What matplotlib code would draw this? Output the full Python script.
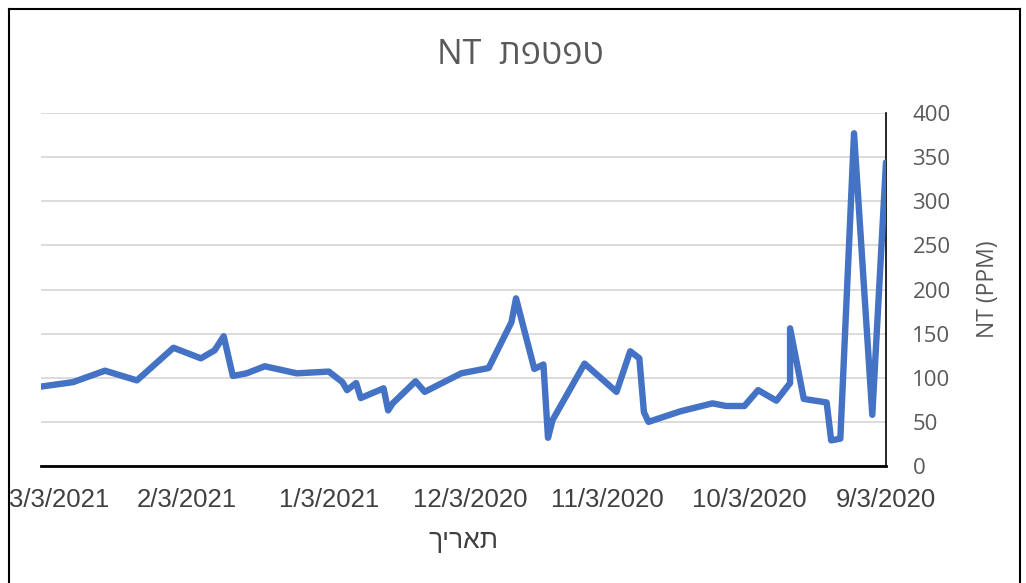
import matplotlib
matplotlib.use("Agg")
import matplotlib.pyplot as plt
from matplotlib.lines import Line2D
import pandas as pd

dates = [
    "2021-03-07", "2021-02-28", "2021-02-21", "2021-02-14", "2021-02-06",
    "2021-01-31", "2021-01-28", "2021-01-26", "2021-01-24", "2021-01-21",
    "2021-01-17", "2021-01-10", "2021-01-03", "2020-12-31", "2020-12-30",
    "2020-12-28", "2020-12-27", "2020-12-22", "2020-12-21", "2020-12-20",
    "2020-12-15", "2020-12-13", "2020-12-05", "2020-11-29", "2020-11-24",
    "2020-11-23", "2020-11-19", "2020-11-17", "2020-11-16", "2020-11-15",
    "2020-11-08", "2020-11-01", "2020-10-29", "2020-10-27", "2020-10-26",
    "2020-10-25", "2020-10-18", "2020-10-11", "2020-10-08", "2020-10-04",
    "2020-10-01", "2020-09-27", "2020-09-24", "2020-09-24", "2020-09-21",
    "2020-09-16", "2020-09-15", "2020-09-13", "2020-09-10", "2020-09-06",
    "2020-09-03",
]
nt_ppm = [
    90, 95, 108, 97, 134,
    122, 131, 147, 102, 105,
    113, 105, 107, 95, 86,
    94, 77, 88, 63, 71,
    96, 84, 105, 111, 163,
    190, 110, 115, 32, 52,
    116, 84, 130, 122, 61,
    50, 62, 71, 68, 68,
    86, 74, 94, 156, 76,
    72, 29, 31, 377, 58,
    344,
]
tick_dates = ["2021-03-03", "2021-02-03", "2021-01-03", "2020-12-03",
              "2020-11-03", "2020-10-03", "2020-09-03"]
y_ticks = [0, 50, 100, 150, 200, 250, 300, 350, 400]

title_he = "טפטפת"
xlabel_he = "תאריך"
ylabel = "NT (PPM)"

x = pd.to_datetime(dates)
fig = plt.figure(figsize=(10.26, 5.83), dpi=100)
ax = fig.add_axes([41/1026, 1-466/583, (886-41)/1026, (466-113)/583])

ax.plot(x, nt_ppm, color="#4472C4", linewidth=4.6,
        solid_joinstyle="round", solid_capstyle="round", zorder=3)

ax.set_xlim(pd.Timestamp("2021-03-07"), pd.Timestamp("2020-09-03"))
ax.set_ylim(0, 400)
ax.set_yticks(y_ticks)
ax.yaxis.tick_right()
ax.yaxis.set_label_position("right")
ax.grid(axis="y", color="#D9D9D9", linewidth=1.3)
ax.set_axisbelow(True)

td = pd.to_datetime(tick_dates)
ax.set_xticks(td)
ax.set_xticklabels([f"{d.month}/{d.day}/{d.year}" for d in td],
                   family=["Liberation Sans Narrow", "Liberation Sans"],
                   fontsize=18.5, color="#404040")
ax.tick_params(axis="x", length=0, pad=16)
ax.tick_params(axis="y", length=0, pad=19, labelsize=16, labelcolor="#595959")
for lab in ax.get_yticklabels():
    lab.set_family(["Open Sans", "DejaVu Sans"])

for s in ["left", "top"]:
    ax.spines[s].set_visible(False)
ax.spines["bottom"].set_color("black")
ax.spines["bottom"].set_linewidth(2)
ax.spines["right"].set_color("black")
ax.spines["right"].set_linewidth(1.2)

ax.set_ylabel(ylabel, fontsize=16.5, color="#595959",
              family=["Open Sans", "DejaVu Sans"], labelpad=18)
ax.set_xlabel(xlabel_he[::-1], fontsize=19, color="#404040",
              family=["Liberation Sans", "DejaVu Sans"], labelpad=12)

fig.text(0.507, 1-55/583, "NT  " + title_he[::-1], ha="center", va="center",
         fontsize=24.5, color="#595959", family=["Open Sans", "DejaVu Sans"])

# outer chart border
border = dict(color="black", lw=1.5, transform=fig.transFigure)
fig.add_artist(Line2D([9/1026, 9/1026], [0, 1-9/583], **border))
fig.add_artist(Line2D([9/1026, 1020/1026], [1-9/583, 1-9/583], **border))
fig.add_artist(Line2D([1020/1026, 1020/1026], [1-9/583, 0], **border))

fig.savefig("out.png", dpi=100)
